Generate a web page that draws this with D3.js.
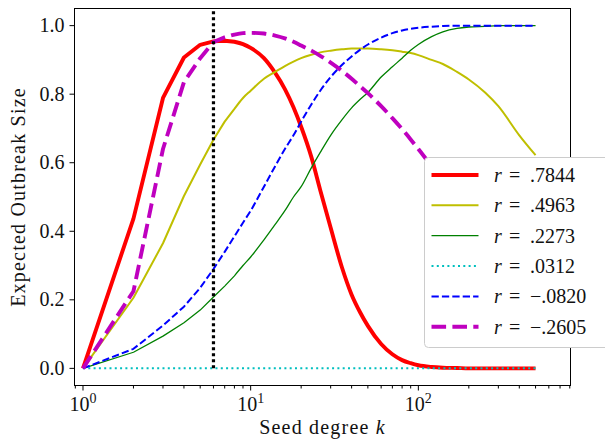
<!DOCTYPE html>
<html>
<head>
<meta charset="utf-8">
<script src="https://cdn.jsdelivr.net/npm/d3@7"></script>
</head>
<body style="margin:0; background:#fff">
<svg id="chart" width="605" height="440"></svg>
<script>
'use strict';

// Seed degrees sampled for every curve
const seedDegrees = [1, 2, 3, 4, 5, 6, 7, 8, 9, 10, 12, 14, 16, 18, 20, 23, 26, 30, 35, 40,
                     45, 50, 60, 70, 80, 90, 100, 120, 140, 170, 200, 250, 300, 400, 500];

// Expected outbreak size per assortativity r
const outbreak7844 = [0, .437, .789, .907, .944, .954, .956, .953, .946, .935, .905, .862, .815, .762, .705, .617, .52, .41, .295, .215,
                      .163, .124, .071, .041, .024, .015, .009, .004, .002, .001, 0, 0, 0, 0, 0];
const outbreak4963 = [0, .206, .365, .503, .595, .667, .72, .757, .789, .81, .845, .865, .882, .895, .905, .915, .922, .927, .931, .933,
                      .933, .933, .931, .928, .924, .92, .914, .90, .888, .865, .843, .805, .765, .68, .622];
const outbreak2273 = [0, .047, .094, .133, .17, .208, .24, .27, .30, .325, .375, .42, .46, .50, .53, .585, .63, .68, .725, .76,
                      .785, .805, .85, .88, .905, .928, .945, .968, .982, .992, .996, .998, 1, 1, 1];
const outbreak0312 = [0, 0, 0, 0, 0, 0, 0, 0, 0, 0, 0, 0, 0, 0, 0, 0, 0, 0, 0, 0,
                      0, 0, 0, 0, 0, 0, 0, 0, 0, 0, 0, 0, 0, 0, 0];
const outbreakNeg0820 = [0, .057, .125, .18, .235, .29, .34, .385, .425, .46, .53, .59, .64, .68, .72, .77, .81, .85, .885, .91,
                         .93, .945, .965, .978, .986, .991, .994, .997, .999, 1, 1, 1, 1, 1, 1];
const outbreakNeg2605 = [0, .225, .64, .835, .905, .952, .966, .974, .978, .979, .977, .971, .963, .953, .942, .927, .912, .892, .868, .845,
                         .823, .803, .765, .73, .698, .668, .64, .59, .55, .50, .46, .40, .35, .28, .23];

const legendLabels = ['.7844', '.4963', '.2273', '.0312', '\u2212.0820', '\u2212.2605'];
const yTickValues = [0, 0.2, 0.4, 0.6, 0.8, 1.0];
const markerDegree = 6;

const series = [
    { values: outbreak7844, color: '#ff0000', width: 3.9, dash: null },
    { values: outbreak4963, color: '#bfbf00', width: 2, dash: null },
    { values: outbreak2273, color: '#008000', width: 1.3, dash: null },
    { values: outbreak0312, color: '#00bfbf', width: 2, dash: '2,3.3' },
    { values: outbreakNeg0820, color: '#0000ff', width: 2, dash: '7.3,3.1' },
    { values: outbreakNeg2605, color: '#bf00bf', width: 3.9, dash: '14.6,6.3' }
];

const svg = d3.select('#chart');

// Every text gets the serif face directly (attribute and important inline style)
function addText(parent) {
    return parent.append('text')
        .attr('font-family', 'Liberation Serif')
        .attr('font-size', 20)
        .style('font-family', 'Liberation Serif', 'important')
        .attr('fill', '#111');
}

const plotLeft = 74.5, plotRight = 570.5, plotTop = 8.5, plotBottom = 385.5;

// Scales
const x = d3.scaleLog().domain([0.89, 808]).range([plotLeft, plotRight]);
const y = d3.scaleLinear().domain([-0.05, 1.05]).range([plotBottom, plotTop]);

// Curves: straight segments between the sparse small degrees, smooth after that
const straight = d3.line().x(d => x(d[0])).y(d => y(d[1]));
const smooth = d3.line().x(d => x(d[0])).y(d => y(d[1])).curve(d3.curveMonotoneX);
const splitAt = 7;

series.forEach(s => {
    const points = seedDegrees.map((k, i) => [k, s.values[i]]);
    const head = straight(points.slice(0, splitAt + 1));
    const tail = smooth(points.slice(splitAt)).replace(/^M[^A-Za-z]*/, '');
    svg.append('path')
       .attr('d', head + tail)
       .attr('fill', 'none')
       .attr('stroke', s.color)
       .attr('stroke-width', s.width)
       .attr('stroke-dasharray', s.dash)
       .attr('stroke-linejoin', 'round');
});

// Vertical marker at the chosen seed degree
svg.append('line')
   .attr('x1', x(markerDegree))
   .attr('x2', x(markerDegree))
   .attr('y1', y(0))
   .attr('y2', y(1.05))
   .attr('stroke', '#000')
   .attr('stroke-width', 3.2)
   .attr('stroke-dasharray', '3,3');

// Frame
svg.append('rect')
   .attr('x', plotLeft).attr('y', plotTop)
   .attr('width', plotRight - plotLeft).attr('height', plotBottom - plotTop)
   .attr('fill', 'none')
   .attr('stroke', '#000')
   .attr('stroke-width', 1);

// y ticks
yTickValues.forEach(v => {
    svg.append('line')
       .attr('x1', plotLeft - 5).attr('x2', plotLeft)
       .attr('y1', y(v)).attr('y2', y(v))
       .attr('stroke', '#000');
    addText(svg)
       .attr('x', plotLeft - 10)
       .attr('y', y(v) + 6.5)
       .attr('text-anchor', 'end')
       .text(v.toFixed(1));
});

// x ticks: majors at powers of ten, minors otherwise
x.ticks().forEach(t => {
    const isMajor = Math.abs(Math.log10(t) - Math.round(Math.log10(t))) < 1e-9;
    const px = x(t);
    if (px < plotLeft || px > plotRight) return;
    svg.append('line')
       .attr('x1', px).attr('x2', px)
       .attr('y1', plotBottom).attr('y2', plotBottom + (isMajor ? 5 : 3))
       .attr('stroke', '#000');
    if (isMajor) {
        const label = addText(svg)
             .attr('x', px)
             .attr('y', plotBottom + 25)
             .attr('text-anchor', 'middle');
        label.append('tspan').text('10');
        label.append('tspan')
             .attr('font-size', 14)
             .attr('dy', -8)
             .text(Math.round(Math.log10(t)));
    }
});

// Axis labels
const xLabel = addText(svg)
   .attr('x', (plotLeft + plotRight) / 2)
   .attr('y', 434)
   .attr('text-anchor', 'middle')
   .attr('letter-spacing', 1.2);
xLabel.append('tspan').text('Seed degree ');
xLabel.append('tspan').attr('font-style', 'italic').text('k');

addText(svg)
   .attr('transform', `translate(25, ${(plotTop + plotBottom) / 2}) rotate(-90)`)
   .attr('text-anchor', 'middle')
   .attr('letter-spacing', 1.2)
   .text('Expected Outbreak Size');

// Legend
svg.append('rect')
   .attr('x', 424.5).attr('y', 157.5)
   .attr('width', 200).attr('height', 190)
   .attr('rx', 4)
   .attr('fill', '#fff')
   .attr('stroke', '#cccccc');

series.forEach((s, i) => {
    const rowY = 175 + i * 30.35;
    svg.append('line')
       .attr('x1', 431.5).attr('x2', 478.5)
       .attr('y1', rowY).attr('y2', rowY)
       .attr('stroke', s.color)
       .attr('stroke-width', s.width)
       .attr('stroke-dasharray', s.dash);
    const label = addText(svg)
       .attr('x', 494)
       .attr('y', rowY + 7);
    label.append('tspan').attr('font-style', 'italic').text('r');
    label.append('tspan').attr('x', 509).text('=');
    label.append('tspan').attr('x', 530).text(legendLabels[i]);
});
</script>
</body>
</html>
